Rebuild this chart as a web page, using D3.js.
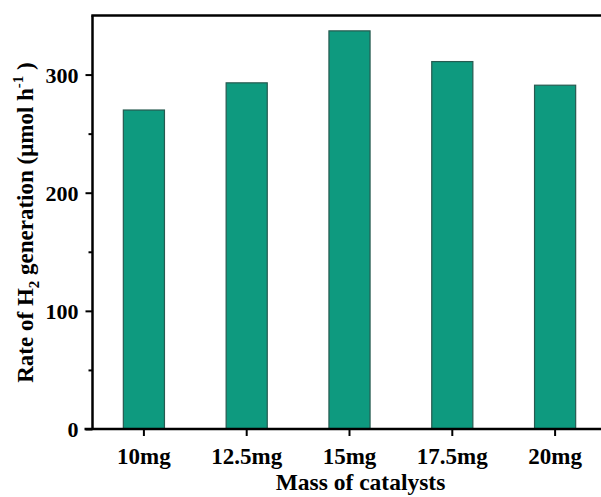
<!DOCTYPE html>
<html>
<head>
<meta charset="utf-8">
<script src="https://cdn.jsdelivr.net/npm/d3@7"></script>
<style>
  html, body { margin: 0; padding: 0; background: #fff; }
  svg { display: block; }
  text { font-family: "Liberation Serif", "Times New Roman", serif; font-weight: bold; fill: #000; }
</style>
</head>
<body>
<svg id="chart" width="601" height="497"></svg>
<script>
// Hydrogen evolution rate for each catalyst loading
const categories = ["10mg", "12.5mg", "15mg", "17.5mg", "20mg"];
const rates = [270, 293, 337, 311, 291];
const yMajorTicks = [0, 100, 200, 300];
const yMinorTicks = [50, 150, 250];

const svg = d3.select("#chart");
const plot = { left: 92.5, top: 15.5, bottom: 429, right: 606.5 };

const x = d3.scaleBand()
  .domain(categories)
  .range([plot.left, plot.right])
  .paddingInner(0.6)
  .paddingOuter(0.3);

const y = d3.scaleLinear()
  .domain([0, 350])
  .range([plot.bottom, plot.top]);

// bars
svg.append("g")
  .selectAll("rect")
  .data(categories.map((c, i) => ({ c, v: rates[i] })))
  .join("rect")
  .attr("x", d => x(d.c))
  .attr("y", d => y(d.v))
  .attr("width", x.bandwidth())
  .attr("height", d => y(0) - y(d.v))
  .attr("fill", "#0e9a7f")
  .attr("stroke", "#275a50")
  .attr("stroke-width", 1.2);

// y axis with major and minor ticks
const yAxis = svg.append("g").attr("transform", `translate(${plot.left},0)`);
yAxis.call(d3.axisLeft(y).tickValues(yMajorTicks).tickSize(7).tickPadding(7).tickFormat(d3.format("d")));
yAxis.append("g").call(d3.axisLeft(y).tickValues(yMinorTicks).tickSize(4).tickFormat(""))
  .select(".domain").remove();
yAxis.selectAll("line").attr("stroke", "#000").attr("stroke-width", 2);
yAxis.selectAll(".domain").attr("stroke", "#000").attr("stroke-width", 2.5)
  .attr("d", `M0,${plot.bottom}V${plot.top}`);
yAxis.selectAll("text")
  .style("font-size", "22px")
  .style("font-family", "Liberation Serif, serif")
  .style("font-weight", "bold")
  .attr("dy", "0.34em");

// x axis
const xAxis = svg.append("g").attr("transform", `translate(0,${plot.bottom})`);
xAxis.call(d3.axisBottom(x).tickSize(7).tickPadding(12));
xAxis.selectAll("line").attr("stroke", "#000").attr("stroke-width", 2);
xAxis.select(".domain").attr("stroke", "#000").attr("stroke-width", 2.5)
  .attr("d", `M${plot.left - 8},0H${plot.right + 10}`);
xAxis.selectAll("text")
  .style("font-size", "23px")
  .style("font-family", "Liberation Serif, serif")
  .style("font-weight", "bold");

// top frame line
svg.append("line")
  .attr("x1", plot.left - 1.2).attr("x2", plot.right + 10)
  .attr("y1", plot.top).attr("y2", plot.top)
  .attr("stroke", "#000").attr("stroke-width", 2.5);

// axis titles
svg.append("text")
  .attr("x", 360.5)
  .attr("y", 490)
  .attr("text-anchor", "middle")
  .style("font-size", "23.5px")
  .text("Mass of catalysts");

const yTitle = svg.append("text")
  .attr("transform", "translate(33,222.5) rotate(-90)")
  .attr("text-anchor", "middle")
  .style("font-size", "23px");
yTitle.append("tspan").text("Rate of H");
yTitle.append("tspan").attr("dy", 6).style("font-size", "15px").text("2");
yTitle.append("tspan").attr("dy", -6).text(" generation (μmol h");
yTitle.append("tspan").attr("dy", -10).style("font-size", "15px").text("-1");
yTitle.append("tspan").attr("dy", 10).text(" )");
</script>
</body>
</html>
